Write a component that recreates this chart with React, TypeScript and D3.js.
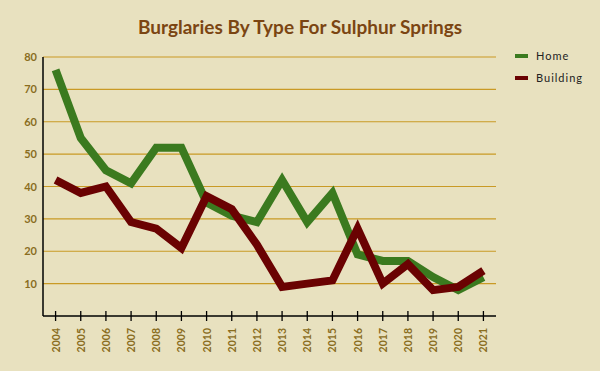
import React from 'react';
import * as d3 from 'd3';

const width = 600;
const height = 371;

const years = ['2004', '2005', '2006', '2007', '2008', '2009', '2010', '2011', '2012', '2013', '2014', '2015', '2016', '2017', '2018', '2019', '2020', '2021'];
const homeValues = [76, 55, 45, 41, 52, 52, 35, 31, 29, 42, 29, 38, 19, 17, 17, 12, 8, 12];
const buildingValues = [42, 38, 40, 29, 27, 21, 37, 33, 22, 9, 10, 11, 27, 10, 16, 8, 9, 14];
const yTicks = [10, 20, 30, 40, 50, 60, 70, 80];

const series = [
  { name: 'Home', values: homeValues, color: '#3b7a1f' },
  { name: 'Building', values: buildingValues, color: '#6a0202' },
];

const left = 43;
const right = 496;
const top = 57;
const bottom = 316;

const App: React.FC = () => {
  const x = d3.scaleBand().domain(years).range([left, right]);
  const y = d3.scaleLinear().domain([0, 80]).range([bottom, top]);
  const cx = (yr: string) => (x(yr) as number) + x.bandwidth() / 2;

  const line = d3
    .line<number>()
    .x((_, i) => cx(years[i]))
    .y(d => y(d));

  const labelFont = 'Lato, "Open Sans", sans-serif';

  return (
    <svg width={width} height={height} style={{ position: 'absolute', top: 0, left: 0, background: '#e8e1bf' }}>
      <rect width={width} height={height} fill="#e8e1bf" />
      <text x={300} y={34} textAnchor="middle" fontFamily={labelFont} fontWeight="bold" fontSize={19} fill="#7b4512">
        Burglaries By Type For Sulphur Springs
      </text>

      {yTicks.map(t => (
        <g key={t}>
          <line x1={left} x2={right} y1={y(t)} y2={y(t)} stroke="#c99a25" strokeWidth={1.2} />
          <text x={37} y={y(t) + 4} textAnchor="end" fontFamily={labelFont} fontWeight="bold" fontSize={11} fill="#8a6d1e">
            {t}
          </text>
        </g>
      ))}

      <line x1={left} x2={left} y1={top} y2={bottom} stroke="#000" strokeWidth={1.5} />
      <line x1={left} x2={right} y1={bottom} y2={bottom} stroke="#000" strokeWidth={1.5} />

      {years.map(yr => (
        <g key={yr}>
          <line x1={cx(yr)} x2={cx(yr)} y1={bottom - 5} y2={bottom + 5} stroke="#000" strokeWidth={1.3} />
          <text
            transform={`translate(${cx(yr) + 4},${328}) rotate(-90)`}
            textAnchor="end"
            fontFamily={labelFont}
            fontWeight="bold"
            fontSize={10.5}
            fill="#8a6d1e"
          >
            {yr}
          </text>
        </g>
      ))}

      {series.map(s => (
        <path
          key={s.name}
          d={line(s.values) ?? ''}
          fill="none"
          stroke={s.color}
          strokeWidth={8}
          strokeLinejoin="miter"
          strokeLinecap="butt"
        />
      ))}

      {series.map((s, i) => (
        <g key={s.name} transform={`translate(515,${56 + i * 22})`}>
          <rect x={0} y={-2} width={13} height={4} fill={s.color} />
          <text x={21} y={4} fontFamily={labelFont} fontSize={11} letterSpacing={1} fill="#222">
            {s.name}
          </text>
        </g>
      ))}
    </svg>
  );
};

export default App;
